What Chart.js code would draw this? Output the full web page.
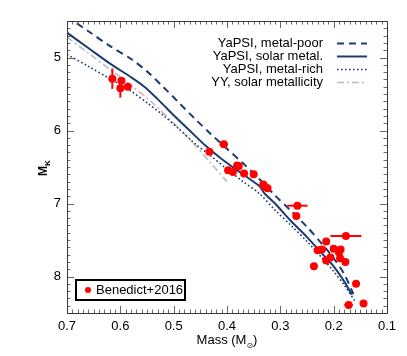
<!DOCTYPE html>
<html>
<head>
<meta charset="utf-8">
<script src="https://cdn.jsdelivr.net/npm/chart.js@4/dist/chart.umd.min.js"></script>
<style>
  html, body { margin: 0; padding: 0; background: #fff; }
  #c { display: block; }
</style>
</head>
<body>
<canvas id="c" width="407" height="356"></canvas>
<script>
// ---- data ----
const poorMass = [0.70, 0.66, 0.62, 0.58, 0.55, 0.52, 0.49, 0.46, 0.43, 0.40, 0.37, 0.34, 0.31, 0.28, 0.25, 0.22, 0.20, 0.18, 0.163];
const poorMk   = [4.44, 4.64, 4.84, 5.02, 5.19, 5.40, 5.62, 5.84, 6.05, 6.25, 6.45, 6.66, 6.89, 7.10, 7.32, 7.57, 7.75, 7.97, 8.24];

const solarMass = [0.70, 0.66, 0.62, 0.58, 0.555, 0.53, 0.50, 0.47, 0.44, 0.41, 0.38, 0.36, 0.345, 0.338, 0.33, 0.31, 0.28, 0.25, 0.22, 0.20, 0.18, 0.166];
const solarMk   = [4.66, 4.87, 5.08, 5.27, 5.40, 5.57, 5.79, 6.00, 6.21, 6.39, 6.55, 6.65, 6.73, 6.77, 6.86, 7.00, 7.24, 7.46, 7.70, 7.86, 8.07, 8.25];

const richMass = [0.70, 0.66, 0.62, 0.58, 0.55, 0.52, 0.49, 0.46, 0.43, 0.40, 0.37, 0.34, 0.31, 0.28, 0.25, 0.22, 0.20, 0.18, 0.16];
const richMk   = [4.96, 5.12, 5.29, 5.46, 5.62, 5.79, 5.98, 6.18, 6.35, 6.53, 6.70, 6.86, 7.09, 7.30, 7.52, 7.76, 7.93, 8.12, 8.34];

const yyMass = [0.70, 0.66, 0.62, 0.58, 0.54, 0.50, 0.46, 0.43, 0.40];
const yyMk   = [4.72, 4.94, 5.16, 5.38, 5.62, 5.90, 6.20, 6.45, 6.70];

const obsMass = [0.615, 0.598, 0.600, 0.586, 0.433, 0.406, 0.398, 0.389, 0.381, 0.378, 0.368, 0.350, 0.332, 0.329, 0.324, 0.268, 0.270, 0.237, 0.230, 0.222, 0.214, 0.214, 0.206, 0.200, 0.177, 0.187, 0.190, 0.188, 0.178, 0.158, 0.172, 0.144];
const obsMk   = [5.29, 5.32, 5.42, 5.40, 6.29, 6.19, 6.545, 6.57, 6.48, 6.49, 6.59, 6.60, 6.74, 6.77, 6.79, 7.03, 7.17, 7.86, 7.64, 7.63, 7.52, 7.78, 7.74, 7.62, 7.445, 7.63, 7.67, 7.75, 7.80, 8.10, 8.39, 8.37];
const obsMassErr = [0, 0, 0, 0.004, 0, 0.008, 0, 0, 0, 0, 0, 0, 0, 0, 0, 0.019, 0, 0, 0, 0, 0, 0, 0, 0, 0.029, 0, 0, 0, 0, 0, 0.008, 0];
const obsMkErr   = [0.14, 0.04, 0.13, 0, 0, 0, 0, 0, 0, 0, 0, 0, 0, 0, 0, 0, 0, 0, 0, 0, 0, 0, 0, 0, 0, 0, 0, 0, 0, 0, 0.05, 0];

const xTickValues = [0.7, 0.6, 0.5, 0.4, 0.3, 0.2, 0.1];
const xTickLabels = ['0.7', '0.6', '0.5', '0.4', '0.3', '0.2', '0.1'];
const yTickValues = [5, 6, 7, 8];
const yTickLabels = ['5', '6', '7', '8'];

const legendLabels = ['YaPSI, metal-poor', 'YaPSI, solar metal.', 'YaPSI, metal-rich', 'YY, solar metallicity'];
const obsLabel = 'Benedict+2016';

// ---- styles ----
const NAVY = '#1d3b73';
const GRAY = '#bcbcbc';
const FONT = '"Liberation Sans", Arial, sans-serif';

function pts(xs, ys) { return xs.map((x, i) => ({ x: x, y: ys[i] })); }

const lineStyles = [
  { color: NAVY, width: 2, dash: [7, 5] },
  { color: NAVY, width: 2, dash: [] },
  { color: NAVY, width: 1.6, dash: [1.6, 2.4] },
  { color: GRAY, width: 1.6, dash: [7, 3, 2, 3] }
];

const curveSets = [[poorMass, poorMk], [solarMass, solarMk], [richMass, richMk], [yyMass, yyMk]];

const datasets = curveSets.map((c, i) => ({
  label: legendLabels[i],
  data: pts(c[0], c[1]),
  showLine: true,
  borderColor: lineStyles[i].color,
  borderWidth: lineStyles[i].width,
  borderDash: lineStyles[i].dash,
  pointRadius: 0,
  tension: 0.3,
  fill: false,
  order: 2
}));

datasets.push({
  label: obsLabel,
  data: pts(obsMass, obsMk),
  showLine: false,
  pointRadius: 4,
  pointBackgroundColor: '#ff0000',
  pointBorderWidth: 0,
  pointBorderColor: '#ff0000',
  order: 1
});

const decor = {
  id: 'decor',
  beforeDatasetDraw(chart, args) {
    if (args.index !== 4) return;
    const ctx = chart.ctx, xs = chart.scales.x, ys = chart.scales.y;
    ctx.save();
    ctx.strokeStyle = '#ff0000';
    ctx.lineWidth = 2;
    obsMass.forEach((m, i) => {
      const px = xs.getPixelForValue(m), py = ys.getPixelForValue(obsMk[i]);
      if (obsMassErr[i] > 0) {
        ctx.beginPath();
        ctx.moveTo(xs.getPixelForValue(m - obsMassErr[i]), py);
        ctx.lineTo(xs.getPixelForValue(m + obsMassErr[i]), py);
        ctx.stroke();
      }
      if (obsMkErr[i] > 0) {
        ctx.beginPath();
        ctx.moveTo(px, ys.getPixelForValue(obsMk[i] - obsMkErr[i]));
        ctx.lineTo(px, ys.getPixelForValue(obsMk[i] + obsMkErr[i]));
        ctx.stroke();
      }
    });
    ctx.restore();
  },
  afterDraw(chart) {
    const ctx = chart.ctx, a = chart.chartArea, xs = chart.scales.x, ys = chart.scales.y;
    ctx.save();
    // inward ticks on all four sides
    ctx.strokeStyle = '#6a6a6a';
    ctx.lineWidth = 1;
    for (let k = 10; k <= 70; k++) {
      const px = Math.round(xs.getPixelForValue(k / 100)) + 0.5;
      const len = (k % 10 === 0) ? 7 : 3.5;
      ctx.beginPath();
      ctx.moveTo(px, a.bottom); ctx.lineTo(px, a.bottom - len);
      ctx.moveTo(px, a.top); ctx.lineTo(px, a.top + len);
      ctx.stroke();
    }
    for (let k = 45; k <= 85; k++) {
      const py = Math.round(ys.getPixelForValue(k / 10)) + 0.5;
      const len = (k % 10 === 0) ? 7 : 3.5;
      ctx.beginPath();
      ctx.moveTo(a.left, py); ctx.lineTo(a.left + len, py);
      ctx.moveTo(a.right, py); ctx.lineTo(a.right - len, py);
      ctx.stroke();
    }
    // frame
    ctx.strokeStyle = '#3a3a3a';
    ctx.strokeRect(Math.round(a.left) + 0.5, Math.round(a.top) + 0.5, Math.round(a.right - a.left), Math.round(a.bottom - a.top));

    // top-right legend
    ctx.font = '13px ' + FONT;
    ctx.fillStyle = '#000';
    ctx.textAlign = 'right';
    ctx.textBaseline = 'middle';
    const ly = [43, 56, 69, 82];
    legendLabels.forEach((t, i) => {
      ctx.fillText(t, 323, ly[i]);
      const s = lineStyles[i];
      ctx.save();
      ctx.strokeStyle = s.color;
      ctx.lineWidth = s.width;
      ctx.setLineDash(s.dash);
      ctx.beginPath();
      ctx.moveTo(337, ly[i] + 0.5); ctx.lineTo(367, ly[i] + 0.5);
      ctx.stroke();
      ctx.restore();
    });

    // bottom-left legend box
    ctx.fillStyle = '#fff';
    ctx.fillRect(76, 280, 109, 20);
    ctx.strokeStyle = '#000';
    ctx.lineWidth = 2;
    ctx.strokeRect(76, 280, 109, 20);
    ctx.fillStyle = '#ff0000';
    ctx.beginPath(); ctx.arc(88, 290, 3, 0, Math.PI * 2); ctx.fill();
    ctx.fillStyle = '#000';
    ctx.textAlign = 'left';
    ctx.font = '13px ' + FONT;
    ctx.fillText(obsLabel, 96, 290.5);

    // x title: Mass (M_sun)
    ctx.textAlign = 'left';
    ctx.textBaseline = 'alphabetic';
    const t1 = 'Mass (M', t2 = '\u2299', t3 = ')';
    ctx.font = '13px ' + FONT; const w1 = ctx.measureText(t1).width;
    ctx.font = '8px "DejaVu Sans", sans-serif'; const w2 = ctx.measureText(t2).width;
    ctx.font = '13px ' + FONT; const w3 = ctx.measureText(t3).width;
    let x0 = 227 - (w1 + w2 + w3) / 2;
    const by = 344;
    ctx.fillText(t1, x0, by);
    ctx.font = '8px "DejaVu Sans", sans-serif'; ctx.fillText(t2, x0 + w1, by + 4);
    ctx.font = '13px ' + FONT; ctx.fillText(t3, x0 + w1 + w2, by);

    // y title: M_K rotated
    ctx.save();
    ctx.translate(47, 168);
    ctx.rotate(-Math.PI / 2);
    ctx.font = 'bold 12px ' + FONT;
    const wm = ctx.measureText('M').width;
    ctx.font = 'bold 8px ' + FONT;
    const wk = ctx.measureText('K').width;
    const sx = -(wm + wk) / 2;
    ctx.font = 'bold 12px ' + FONT;
    ctx.fillText('M', sx, 0);
    ctx.font = 'bold 8px ' + FONT;
    ctx.fillText('K', sx + wm, 3);
    ctx.restore();
    ctx.restore();
  }
};

new Chart(document.getElementById('c'), {
  type: 'scatter',
  data: { datasets: datasets },
  options: {
    responsive: false,
    animation: false,
    devicePixelRatio: 1,
    layout: { padding: { top: 21, right: 20, left: 0, bottom: 0 } },
    plugins: { legend: { display: false }, tooltip: { enabled: false } },
    scales: {
      x: {
        type: 'linear', min: 0.1, max: 0.7, reverse: true,
        grid: { display: false, drawTicks: false }, border: { display: false },
        afterBuildTicks: (s) => { s.ticks = xTickValues.map(v => ({ value: v })); },
        ticks: {
          padding: 6, color: '#000',
          font: { family: FONT, size: 13 },
          callback: (v) => {
            const i = xTickValues.findIndex(t => Math.abs(t - v) < 1e-6);
            return i < 0 ? '' : xTickLabels[i];
          }
        },
        afterFit: (s) => { s.height = 43; }
      },
      y: {
        type: 'linear', min: 4.5, max: 8.5, reverse: true,
        grid: { display: false, drawTicks: false }, border: { display: false },
        afterBuildTicks: (s) => { s.ticks = yTickValues.map(v => ({ value: v })); },
        ticks: {
          padding: 6, color: '#000',
          font: { family: FONT, size: 13 },
          callback: (v) => {
            const i = yTickValues.findIndex(t => Math.abs(t - v) < 1e-6);
            return i < 0 ? '' : yTickLabels[i];
          }
        },
        afterFit: (s) => { s.width = 67; }
      }
    }
  },
  plugins: [decor]
});
</script>
</body>
</html>
